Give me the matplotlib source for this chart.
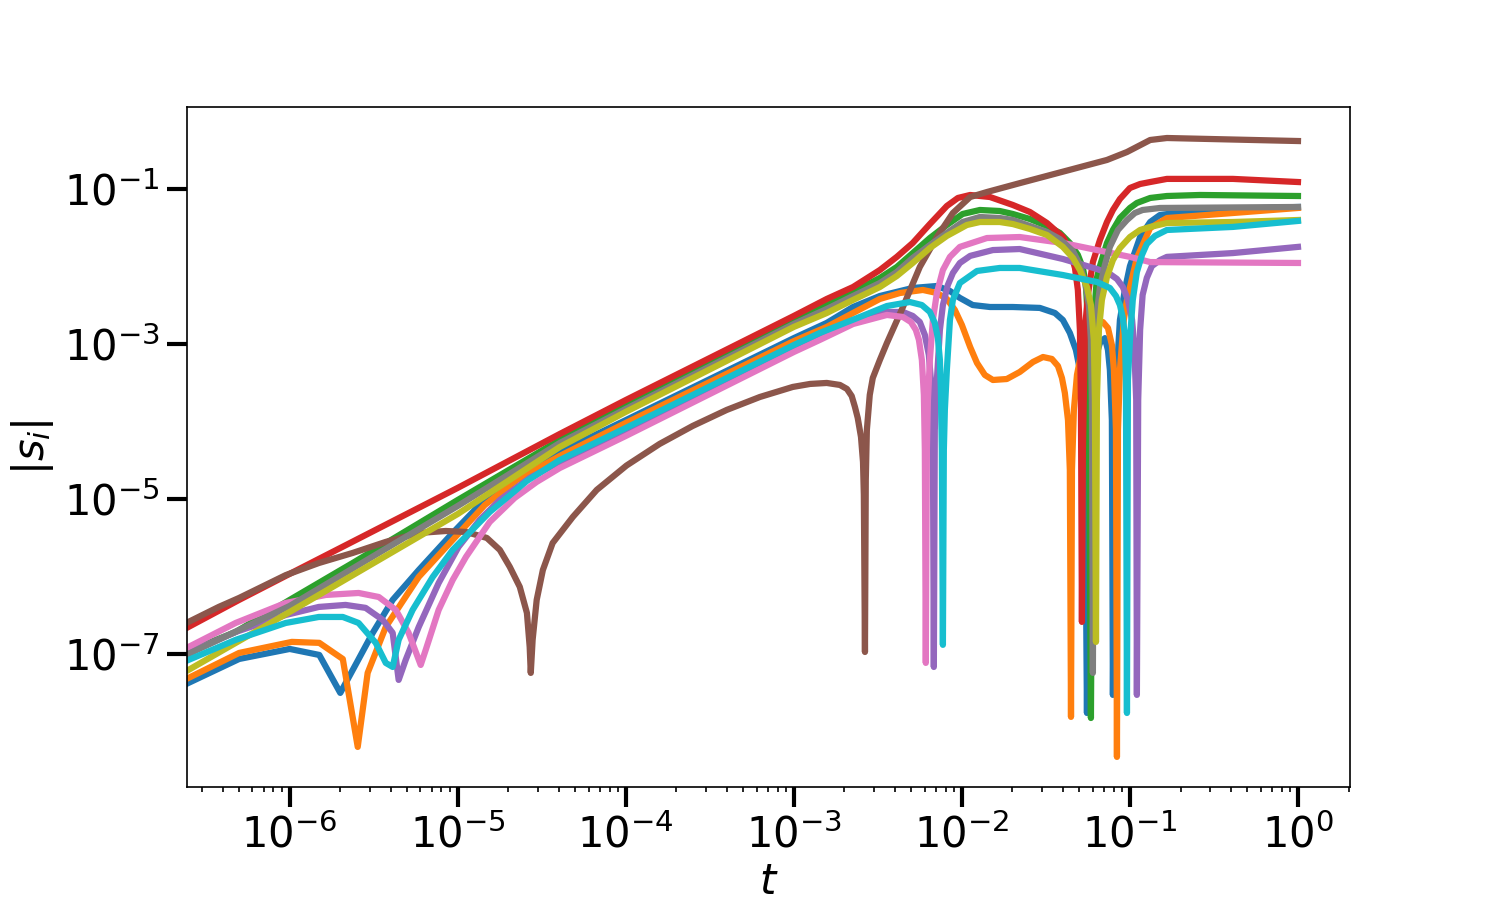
import matplotlib
matplotlib.use("Agg")
import matplotlib.pyplot as plt
from matplotlib.ticker import LogLocator, NullLocator

# ---- data (t, |s_i|) ----
t_c0 = [2.5e-7, 5e-7, 1e-6, 1.5e-6, 2e-6, 2.5e-6, 3.12e-6, 4.1e-6, 5.86e-6, 9.33e-6,
        1.35e-5, 2.04e-5, 2.95e-5, 4.05e-5, 1e-4, 1e-3, 1.57e-3, 2.25e-3, 3.25e-3, 5.1e-3,
        7.1e-3, 8.49e-3, 9.73e-3, 1.16e-2, 1.47e-2, 2.01e-2, 2.91e-2, 3.58e-2, 3.99e-2, 4.39e-2,
        4.77e-2, 5.04e-2, 5.25e-2, 5.40e-2, 5.55e-2, 5.7e-2, 5.86e-2, 6.19e-2, 6.63e-2, 7.1e-2,
        7.4e-2, 7.6e-2, 7.81e-2, 7.92e-2, 8.14e-2, 8.37e-2, 8.72e-2, 9.33e-2, 1e-1, 1.15e-1,
        1.32e-1, 1.51e-1, 2.61e-1, 1.0]
s_c0 = [4.23e-8, 8.61e-8, 1.16e-7, 9.7e-8, 3.14e-8, 7.66e-8, 1.87e-7, 4.98e-7, 1.21e-6, 3.64e-6,
        8.37e-6, 1.71e-5, 2.83e-5, 4.04e-5, 1.04e-4, 1.19e-3, 1.87e-3, 3.0e-3, 4.16e-3, 5.28e-3,
        5.6e-3, 4.83e-3, 3.93e-3, 3.18e-3, 3.0e-3, 3.0e-3, 2.92e-3, 2.51e-3, 2.04e-3, 1.39e-3,
        8.37e-4, 4.62e-4, 1.89e-4, 4.29e-5, 1.73e-8, 4.29e-5, 1.89e-4, 6.22e-4, 1.03e-3, 1.19e-3,
        8.37e-4, 4.62e-4, 1.04e-4, 2.96e-8, 1.04e-4, 4.62e-4, 2.04e-3, 4.98e-3, 1.01e-2, 2.4e-2,
        3.75e-2, 4.62e-2, 5.36e-2, 5.86e-2]

t_c1 = [2.5e-7, 5e-7, 1.03e-6, 1.5e-6, 2.07e-6, 2.54e-6, 2.91e-6, 3.73e-6, 5.86e-6, 9.33e-6,
        1.45e-5, 2.25e-5, 3.08e-5, 4.05e-5, 1e-4, 1e-3, 1.57e-3, 2.25e-3, 3.25e-3, 4.28e-3,
        5.86e-3, 7.1e-3, 8.14e-3, 9.08e-3, 1.0e-2, 1.12e-2, 1.23e-2, 1.37e-2, 1.53e-2, 1.85e-2,
        2.21e-2, 2.65e-2, 3.04e-2, 3.43e-2, 3.73e-2, 3.94e-2, 4.1e-2, 4.28e-2, 4.39e-2, 4.46e-2,
        4.52e-2, 4.64e-2, 4.84e-2, 5.18e-2, 5.78e-2, 6.36e-2, 6.9e-2, 7.4e-2, 7.81e-2, 8.03e-2,
        8.26e-2, 8.37e-2, 8.49e-2, 8.72e-2, 9.2e-2, 9.6e-2, 1.1e-1, 1.32e-1, 1.66e-1, 4.1e-1, 1.0]
s_c1 = [4.9e-8, 1.03e-7, 1.43e-7, 1.39e-7, 8.61e-8, 6.31e-9, 5.69e-8, 2.23e-7, 9.86e-7, 2.96e-6,
        8.37e-6, 1.76e-5, 2.59e-5, 3.59e-5, 9.57e-5, 1.09e-3, 1.66e-3, 2.51e-3, 3.81e-3, 4.55e-3,
        4.98e-3, 4.55e-3, 3.81e-3, 2.75e-3, 1.76e-3, 9.14e-4, 5.69e-4, 3.98e-4, 3.43e-4, 3.53e-4,
        4.35e-4, 5.86e-4, 6.79e-4, 6.41e-4, 5.2e-4, 3.64e-4, 2.33e-4, 1.04e-4, 2.37e-5, 1.54e-8,
        2.37e-5, 1.41e-4, 3.98e-4, 8.37e-4, 1.39e-3, 1.76e-3, 1.92e-3, 1.61e-3, 9.7e-4, 4.62e-4,
        7.76e-5, 4.69e-9, 7.76e-5, 4.62e-4, 2.04e-3, 3.70e-3, 1.29e-2, 3.14e-2, 4.22e-2, 4.9e-2, 5.69e-2]

t_c2 = [2.5e-7, 4.77e-7, 1e-6, 2.37e-6, 1e-5, 4.05e-5, 1e-4, 1e-3, 1.57e-3, 2.25e-3,
        3.25e-3, 4.1e-3, 5.1e-3, 6.45e-3, 8.14e-3, 1.01e-2, 1.28e-2, 1.68e-2, 2.01e-2, 2.54e-2,
        3.21e-2, 3.83e-2, 4.39e-2, 4.9e-2, 5.25e-2, 5.47e-2, 5.62e-2, 5.7e-2, 5.86e-2, 6.02e-2,
        6.1e-2, 6.28e-2, 6.36e-2, 6.63e-2, 7.3e-2, 7.92e-2, 8.72e-2, 1e-1, 1.1e-1, 1.32e-1,
        1.66e-1, 2.61e-1, 1.0]
s_c2 = [1.09e-7, 1.92e-7, 4.98e-7, 1.49e-6, 9.7e-6, 5.77e-5, 1.58e-4, 1.98e-3, 3.18e-3, 4.69e-3,
        7.11e-3, 9.86e-3, 1.49e-2, 2.33e-2, 3.43e-2, 4.76e-2, 5.36e-2, 5.2e-2, 4.76e-2, 4.1e-2,
        3.33e-2, 2.71e-2, 2.01e-2, 1.41e-2, 9.57e-3, 5.77e-3, 2.04e-3, 1.89e-4, 1.49e-8, 1.89e-4,
        2.04e-3, 4.98e-3, 7.11e-3, 1.01e-2, 2.01e-2, 2.96e-2, 4.22e-2, 5.69e-2, 6.6e-2, 7.66e-2,
        8.12e-2, 8.37e-2, 8.12e-2]

t_c3 = [2.5e-7, 5e-7, 1e-6, 1e-5, 4.05e-5, 1e-4, 1e-3, 1.57e-3, 2.25e-3, 3.25e-3,
        4.1e-3, 5.1e-3, 6.45e-3, 8.14e-3, 9.47e-3, 1.12e-2, 1.47e-2, 2.01e-2, 2.54e-2, 3.21e-2,
        3.99e-2, 4.39e-2, 4.71e-2, 4.9e-2, 5.04e-2, 5.11e-2, 5.18e-2, 5.25e-2, 5.40e-2, 5.62e-2,
        6.02e-2, 6.63e-2, 7.3e-2, 7.92e-2, 8.72e-2, 1.0e-1, 1.15e-1, 1.32e-1, 1.66e-1, 4.1e-1, 1.0]
s_c3 = [2.23e-7, 4.98e-7, 1.08e-6, 1.39e-5, 6.9e-5, 1.89e-4, 2.3e-3, 3.81e-3, 5.43e-3, 9.0e-3,
        1.33e-2, 2.01e-2, 3.53e-2, 6.04e-2, 7.66e-2, 8.37e-2, 7.88e-2, 6.22e-2, 5.05e-2, 3.64e-2,
        2.4e-2, 1.63e-2, 9.57e-3, 4.98e-3, 1.52e-3, 1.89e-4, 2.59e-7, 4.29e-5, 1.52e-3, 4.29e-3,
        1.14e-2, 2.2e-2, 3.75e-2, 5.36e-2, 7.43e-2, 1.03e-1, 1.16e-1, 1.23e-1, 1.35e-1, 1.35e-1, 1.23e-1]

t_c4 = [2.5e-7, 4.77e-7, 9.47e-7, 1.49e-6, 2.15e-6, 2.83e-6, 3.58e-6, 4.1e-6, 4.45e-6, 4.9e-6,
        5.86e-6, 7.7e-6, 1.01e-5, 1.35e-5, 1.78e-5, 2.68e-5, 4.05e-5, 1e-4, 1e-3, 1.57e-3,
        2.47e-3, 3.58e-3, 4.46e-3, 5.1e-3, 5.62e-3, 6.02e-3, 6.36e-3, 6.54e-3, 6.72e-3, 6.81e-3,
        6.9e-3, 7.1e-3, 7.4e-3, 7.71e-3, 8.25e-3, 8.84e-3, 9.73e-3, 1.12e-2, 1.53e-2, 2.21e-2,
        3.99e-2, 6.36e-2, 7.6e-2, 8.37e-2, 9.08e-2, 9.73e-2, 1.03e-1, 1.06e-1, 1.09e-1, 1.1e-1,
        1.12e-1, 1.15e-1, 1.19e-1, 1.26e-1, 1.35e-1, 1.51e-1, 1.66e-1, 4.1e-1, 1.0]
s_c4 = [1.03e-7, 1.92e-7, 3.18e-7, 4.04e-7, 4.29e-7, 3.93e-7, 2.75e-7, 1.87e-7, 4.62e-8, 8.37e-8,
        2.23e-7, 8.24e-7, 2.4e-6, 5.36e-6, 9.7e-6, 1.87e-5, 3.0e-5, 7.54e-5, 8.87e-4, 1.35e-3,
        2.04e-3, 2.59e-3, 2.59e-3, 2.3e-3, 1.92e-3, 1.31e-3, 7.21e-4, 3.43e-4, 7.76e-5, 6.79e-8,
        7.76e-5, 3.43e-4, 1.52e-3, 3.18e-3, 5.77e-3, 8.24e-3, 1.11e-2, 1.37e-2, 1.63e-2, 1.68e-2,
        1.25e-2, 9.29e-3, 8.0e-3, 6.9e-3, 5.43e-3, 3.70e-3, 2.04e-3, 9.7e-4, 1.89e-4, 2.96e-8,
        1.89e-4, 1.52e-3, 4.29e-3, 7.11e-3, 1.01e-2, 1.21e-2, 1.33e-2, 1.49e-2, 1.79e-2]

t_c5 = [2.5e-7, 3.78e-7, 5e-7, 9.47e-7, 1.49e-6, 2.37e-6, 3.73e-6, 5.86e-6, 8.49e-6, 1.12e-5,
        1.49e-5, 1.78e-5, 2.04e-5, 2.34e-5, 2.58e-5, 2.68e-5, 2.72e-5, 2.79e-5, 2.95e-5, 3.21e-5,
        3.67e-5, 4.84e-5, 6.72e-5, 1.01e-4, 1.59e-4, 2.5e-4, 3.99e-4, 6.28e-4, 9.86e-4, 1.25e-3,
        1.57e-3, 1.88e-3, 2.07e-3, 2.21e-3, 2.31e-3, 2.40e-3, 2.51e-3, 2.58e-3, 2.61e-3, 2.65e-3,
        2.68e-3, 2.72e-3, 2.83e-3, 2.95e-3, 3.25e-3, 3.58e-3, 4.46e-3, 5.62e-3, 7.1e-3, 8.84e-3,
        1.12e-2, 1.41e-2, 2.21e-2, 7.3e-2, 9.6e-2, 1.32e-1, 1.66e-1, 1.0]
s_c5 = [2.59e-7, 4.04e-7, 5.28e-7, 1.04e-6, 1.49e-6, 2.01e-6, 2.79e-6, 3.64e-6, 3.86e-6, 3.75e-6,
        3.14e-6, 2.2e-6, 1.33e-6, 7.33e-7, 3.38e-7, 1.23e-7, 5.69e-8, 1.52e-7, 4.98e-7, 1.21e-6,
        2.70e-6, 5.86e-6, 1.31e-5, 2.7e-5, 5.13e-5, 8.75e-5, 1.41e-4, 2.07e-4, 2.79e-4, 3.05e-4,
        3.14e-4, 2.96e-4, 2.63e-4, 2.13e-4, 1.54e-4, 1.11e-4, 6.31e-5, 3.0e-5, 1.13e-5, 1.06e-7,
        1.76e-5, 7.76e-5, 2.2e-4, 3.64e-4, 6.22e-4, 1.03e-3, 3.0e-3, 9.86e-3, 2.4e-2, 4.9e-2,
        7.88e-2, 9.14e-2, 1.19e-1, 2.37e-1, 3.0e-1, 4.29e-1, 4.55e-1, 4.16e-1]

t_c6 = [2.5e-7, 4.77e-7, 9.47e-7, 1.64e-6, 2.57e-6, 3.39e-6, 4.28e-6, 5.1e-6, 6.02e-6, 6.45e-6,
        7.7e-6, 9.33e-6, 1.12e-5, 1.55e-5, 2.18e-5, 2.95e-5, 4.05e-5, 1e-4, 1e-3, 1.43e-3,
        2.25e-3, 3.58e-3, 4.46e-3, 4.97e-3, 5.32e-3, 5.55e-3, 5.78e-3, 5.94e-3, 6.02e-3, 6.1e-3,
        6.19e-3, 6.28e-3, 6.45e-3, 6.72e-3, 7.1e-3, 7.71e-3, 8.49e-3, 9.73e-3, 1.41e-2, 2.21e-2,
        3.99e-2, 6.36e-2, 1e-1, 1.32e-1, 1.0]
s_c6 = [1.23e-7, 2.51e-7, 4.55e-7, 5.77e-7, 6.12e-7, 5.43e-7, 3.7e-7, 1.87e-7, 7.21e-8, 1.13e-7,
        3.7e-7, 9.0e-7, 1.79e-6, 5.05e-6, 1.03e-5, 1.66e-5, 2.51e-5, 6.5e-5, 7.88e-4, 1.13e-3,
        1.81e-3, 2.37e-3, 2.23e-3, 1.92e-3, 1.52e-3, 1.13e-3, 6.22e-4, 2.2e-4, 4.29e-5, 7.66e-8,
        4.29e-5, 1.89e-4, 6.22e-4, 2.04e-3, 4.55e-3, 9.0e-3, 1.33e-2, 1.79e-2, 2.33e-2, 2.4e-2,
        2.01e-2, 1.63e-2, 1.33e-2, 1.14e-2, 1.11e-2]

t_c7 = [2.5e-7, 1e-6, 1e-5, 4.05e-5, 1e-4, 1e-3, 1.57e-3, 2.25e-3, 3.25e-3, 4.1e-3,
        5.1e-3, 6.45e-3, 8.14e-3, 1.01e-2, 1.28e-2, 1.68e-2, 2.01e-2, 2.54e-2, 3.21e-2, 3.83e-2,
        4.58e-2, 5.04e-2, 5.40e-2, 5.7e-2, 5.86e-2, 5.94e-2, 6.02e-2, 6.1e-2, 6.28e-2, 6.63e-2,
        7.1e-2, 7.6e-2, 8.49e-2, 9.6e-2, 1.07e-1, 1.19e-1, 1.51e-1, 1.0]
s_c7 = [1.0e-7, 4.16e-7, 8.12e-6, 5.28e-5, 1.45e-4, 1.81e-3, 2.83e-3, 4.16e-3, 6.12e-3, 8.49e-3,
        1.29e-2, 1.89e-2, 2.71e-2, 3.75e-2, 4.35e-2, 4.22e-2, 3.98e-2, 3.33e-2, 2.79e-2, 2.26e-2,
        1.58e-2, 1.05e-2, 6.31e-3, 3.18e-3, 1.13e-3, 1.89e-4, 5.69e-8, 1.89e-4, 2.04e-3, 5.43e-3,
        1.05e-2, 1.79e-2, 2.96e-2, 3.98e-2, 4.9e-2, 5.36e-2, 5.69e-2, 5.86e-2]

t_c8 = [2.5e-7, 1e-6, 1e-5, 4.05e-5, 1e-4, 1e-3, 1.57e-3, 2.25e-3, 3.25e-3, 4.1e-3,
        5.1e-3, 6.45e-3, 8.14e-3, 1.07e-2, 1.28e-2, 1.68e-2, 2.01e-2, 2.54e-2, 3.21e-2, 3.99e-2,
        4.58e-2, 5.04e-2, 5.55e-2, 5.86e-2, 6.1e-2, 6.19e-2, 6.28e-2, 6.36e-2, 6.54e-2, 6.81e-2,
        7.3e-2, 7.92e-2, 8.72e-2, 1e-1, 1.15e-1, 1.32e-1, 1.66e-1, 4.1e-1, 1.0]
s_c8 = [6.22e-8, 3.48e-7, 6.4e-6, 4.69e-5, 1.33e-4, 1.66e-3, 2.51e-3, 3.70e-3, 5.43e-3, 7.54e-3,
        1.11e-2, 1.73e-2, 2.48e-2, 3.43e-2, 3.75e-2, 3.75e-2, 3.53e-2, 3.05e-2, 2.55e-2, 1.79e-2,
        1.29e-2, 9.0e-3, 5.43e-3, 3.18e-3, 1.13e-3, 1.89e-4, 1.43e-7, 1.89e-4, 1.52e-3, 3.70e-3,
        7.32e-3, 1.21e-2, 1.73e-2, 2.4e-2, 2.96e-2, 3.24e-2, 3.64e-2, 3.75e-2, 3.98e-2]

t_c9 = [2.5e-7, 4.77e-7, 9.47e-7, 1.49e-6, 2.07e-6, 2.57e-6, 3.25e-6, 3.73e-6, 4.1e-6, 4.45e-6,
        5.39e-6, 7.1e-6, 9.33e-6, 1.55e-5, 2.58e-5, 4.05e-5, 1e-4, 1e-3, 1.43e-3, 2.47e-3,
        3.58e-3, 4.9e-3, 5.78e-3, 6.45e-3, 6.9e-3, 7.2e-3, 7.4e-3, 7.5e-3, 7.6e-3, 7.71e-3,
        7.81e-3, 7.92e-3, 8.14e-3, 8.49e-3, 8.84e-3, 9.73e-3, 1.23e-2, 1.68e-2, 2.21e-2, 3.99e-2,
        6.36e-2, 7.6e-2, 8.26e-2, 8.72e-2, 9.08e-2, 9.33e-2, 9.47e-2, 9.6e-2, 9.73e-2, 1e-1,
        1.04e-1, 1.1e-1, 1.18e-1, 1.26e-1, 1.41e-1, 1.66e-1, 4.1e-1, 1.0]
s_c9 = [8.37e-8, 1.52e-7, 2.51e-7, 3.0e-7, 3.0e-7, 2.51e-7, 1.39e-7, 7.66e-8, 6.79e-8, 1.52e-7,
        3.7e-7, 9.86e-7, 2.2e-6, 6.79e-6, 1.71e-5, 3.18e-5, 8.24e-5, 9.7e-4, 1.39e-3, 2.23e-3,
        3.09e-3, 3.48e-3, 3.18e-3, 2.59e-3, 1.87e-3, 1.19e-3, 6.22e-4, 2.55e-4, 4.29e-5, 1.31e-7,
        4.29e-5, 1.41e-4, 4.62e-4, 2.04e-3, 3.70e-3, 6.12e-3, 8.75e-3, 9.57e-3, 9.57e-3, 7.76e-3,
        6.31e-3, 5.28e-3, 4.16e-3, 3.18e-3, 2.16e-3, 1.31e-3, 3.43e-4, 1.73e-8, 3.43e-4, 1.13e-3,
        3.70e-3, 8.49e-3, 1.41e-2, 1.95e-2, 2.48e-2, 2.96e-2, 3.24e-2, 3.87e-2]

series_t = [t_c0, t_c1, t_c2, t_c3, t_c4, t_c5, t_c6, t_c7, t_c8, t_c9]
series_s = [s_c0, s_c1, s_c2, s_c3, s_c4, s_c5, s_c6, s_c7, s_c8, s_c9]

y_ticks = [1e-7, 1e-5, 1e-3, 1e-1]
x_label = "$t$"
y_label = "$|s_i|$"

# ---- figure ----
fig = plt.figure(figsize=(10, 6), dpi=150)
ax = fig.add_axes([0.1247, 0.1256, 0.7753, 0.7555])

colors = plt.rcParams["axes.prop_cycle"].by_key()["color"]
for i, (tt, ss) in enumerate(zip(series_t, series_s)):
    ax.plot(tt, ss, color=colors[i % len(colors)], lw=3.0)

ax.set_xscale("log")
ax.set_yscale("log")
ax.set_xlim(2.45e-7, 2.04)
ax.set_ylim(1.92e-9, 1.143)

ax.set_yticks(y_ticks)
ax.yaxis.set_minor_locator(NullLocator())
ax.xaxis.set_major_locator(LogLocator(base=10, numticks=20))
ax.xaxis.set_minor_locator(LogLocator(base=10, subs=range(2, 10), numticks=100))

ax.tick_params(which="major", labelsize=20, length=9.5, width=2.0)
ax.tick_params(which="minor", length=2.5, width=0.8)

ax.set_xlabel(x_label, fontsize=20, labelpad=2)
ax.set_ylabel(y_label, fontsize=20)

fig.savefig("out.png", dpi=150)
